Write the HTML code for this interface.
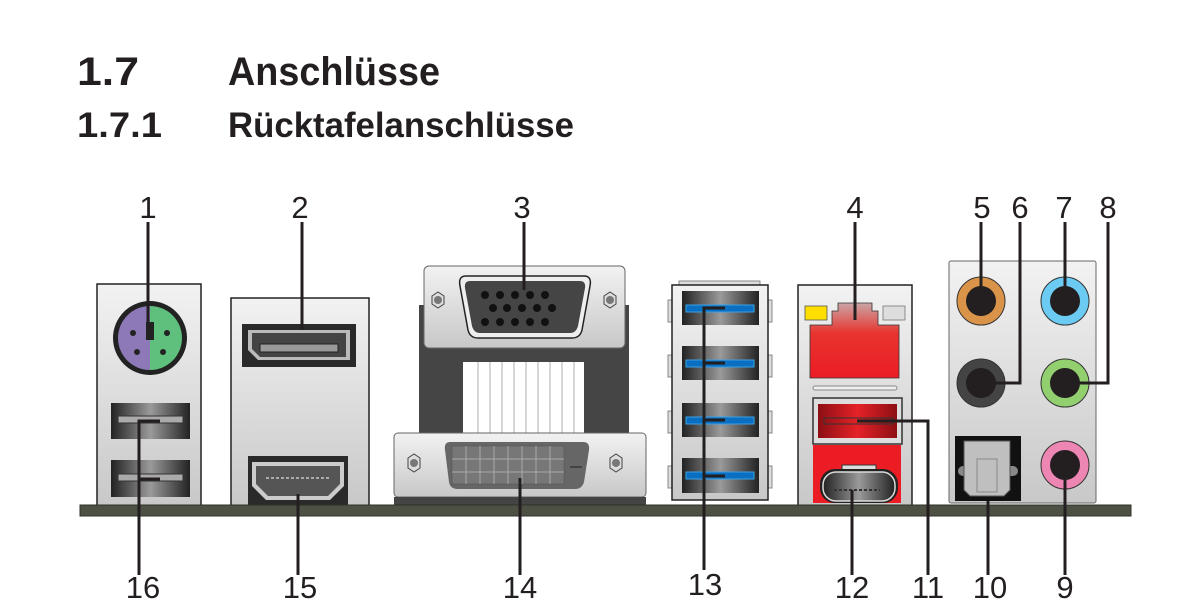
<!DOCTYPE html>
<html><head><meta charset="utf-8"><style>
html,body{margin:0;padding:0;background:#fff;}
svg{display:block;}
text{font-family:"Liberation Sans",sans-serif;fill:#231f20;}
</style></head><body>
<svg width="1201" height="616" viewBox="0 0 1201 616" xmlns="http://www.w3.org/2000/svg">
<defs>
<linearGradient id="port" x1="0" x2="1" y1="0" y2="0">
<stop offset="0" stop-color="#222"/><stop offset="0.5" stop-color="#9a9a9a"/><stop offset="1" stop-color="#222"/>
</linearGradient>
<linearGradient id="plate" x1="0" x2="0" y1="0" y2="1">
<stop offset="0" stop-color="#f2f2f2"/><stop offset="1" stop-color="#c8c8c8"/>
</linearGradient>
<linearGradient id="rj" x1="0" x2="0" y1="0" y2="1">
<stop offset="0" stop-color="#c9a6a6"/><stop offset="0.4" stop-color="#e8342f"/><stop offset="1" stop-color="#ec1c24"/>
</linearGradient>
<linearGradient id="redport" x1="0" x2="1" y1="0" y2="0">
<stop offset="0" stop-color="#8c0f14"/><stop offset="0.5" stop-color="#e52228"/><stop offset="1" stop-color="#8c0f14"/>
</linearGradient>
</defs>

<text x="77" y="85" font-size="40" font-weight="bold" textLength="62" lengthAdjust="spacingAndGlyphs">1.7</text>
<text x="228" y="85" font-size="40" font-weight="bold" textLength="212" lengthAdjust="spacingAndGlyphs">Anschlüsse</text>
<text x="77" y="137" font-size="35" font-weight="bold" textLength="85" lengthAdjust="spacingAndGlyphs">1.7.1</text>
<text x="228" y="137" font-size="35" font-weight="bold" textLength="346" lengthAdjust="spacingAndGlyphs">Rücktafelanschlüsse</text>

<g font-size="31" text-anchor="middle">
<text x="148" y="218">1</text><text x="300" y="218">2</text><text x="522" y="218">3</text>
<text x="855" y="218">4</text><text x="982" y="218">5</text><text x="1020" y="218">6</text>
<text x="1064" y="218">7</text><text x="1108" y="218">8</text>
<text x="143" y="598">16</text><text x="300" y="598">15</text><text x="520" y="598">14</text>
<text x="705" y="595">13</text><text x="852" y="598">12</text><text x="928" y="598">11</text>
<text x="990" y="598">10</text><text x="1065" y="598">9</text>
</g>

<!-- block 1 -->
<rect x="97" y="284" width="104" height="222" fill="url(#plate)" stroke="#222" stroke-width="1.5"/>
<circle cx="150" cy="338" r="37" fill="#222"/>
<path d="M150 306 A32 32 0 0 0 150 370 Z" fill="#8e79b8"/>
<path d="M150 306 A32 32 0 0 1 150 370 Z" fill="#5fbf7c"/>
<rect x="146" y="322" width="8" height="18" fill="#222"/>
<g fill="#222"><circle cx="133" cy="333" r="3"/><circle cx="167" cy="333" r="3"/><circle cx="137" cy="352" r="3"/><circle cx="163" cy="352" r="3"/><circle cx="140" cy="323" r="0"/></g>
<rect x="111" y="403" width="79" height="36" fill="url(#port)"/>
<rect x="118" y="416" width="65" height="7" fill="#aaa" stroke="#333"/>
<rect x="111" y="460" width="79" height="37" fill="url(#port)"/>
<rect x="118" y="474" width="65" height="7" fill="#aaa" stroke="#333"/>

<!-- block 2 -->
<rect x="231" y="298" width="138" height="208" fill="url(#plate)" stroke="#222" stroke-width="1.5"/>
<rect x="242" y="324" width="114" height="43" fill="#2a2a2a"/>
<path d="M248 330 H350 V360 H258 L248 350 Z" fill="#bbb"/>
<path d="M252 333 H346 V357 H260 L252 349 Z" fill="#444"/>
<rect x="260" y="344" width="78" height="8" fill="#999" stroke="#222"/>
<rect x="248" y="456" width="100" height="50" fill="#2a2a2a"/>
<path d="M252 462 H344 V486 L330 500 H266 L252 486 Z" fill="#ccc"/>
<path d="M256 466 H340 V484 L328 496 H268 L256 484 Z" fill="#555"/>
<line x1="266" y1="478" x2="330" y2="478" stroke="#aaa" stroke-width="2" stroke-dasharray="3 2"/>

<!-- VGA / DVI -->
<rect x="419" y="305" width="210" height="130" fill="#454545"/>
<rect x="463" y="362" width="121" height="72" fill="#fff"/>
<g stroke="#c8c8c8" stroke-width="1.5">
<line x1="478" y1="362" x2="478" y2="434"/><line x1="490" y1="362" x2="490" y2="434"/><line x1="502" y1="362" x2="502" y2="434"/><line x1="514" y1="362" x2="514" y2="434"/><line x1="526" y1="362" x2="526" y2="434"/><line x1="538" y1="362" x2="538" y2="434"/><line x1="550" y1="362" x2="550" y2="434"/><line x1="562" y1="362" x2="562" y2="434"/><line x1="574" y1="362" x2="574" y2="434"/>
</g>
<rect x="424" y="266" width="201" height="82" rx="5" fill="url(#plate)" stroke="#666"/>
<path d="M466 276 H584 Q592 276 590 286 L582 330 Q580 338 572 338 H478 Q470 338 468 330 L460 286 Q458 276 466 276 Z" fill="#eee" stroke="#222" stroke-width="1.5"/>
<path d="M470 281 H580 Q586 281 585 288 L578 326 Q576 333 570 333 H480 Q474 333 472 326 L465 288 Q464 281 470 281 Z" fill="#454545"/>
<g fill="#111">
<circle cx="485" cy="295" r="4"/><circle cx="500" cy="295" r="4"/><circle cx="515" cy="295" r="4"/><circle cx="530" cy="295" r="4"/><circle cx="545" cy="295" r="4"/>
<circle cx="493" cy="308" r="4"/><circle cx="507" cy="308" r="4"/><circle cx="522" cy="308" r="4"/><circle cx="537" cy="308" r="4"/><circle cx="552" cy="308" r="4"/>
<circle cx="485" cy="322" r="4"/><circle cx="500" cy="322" r="4"/><circle cx="515" cy="322" r="4"/><circle cx="530" cy="322" r="4"/><circle cx="545" cy="322" r="4"/>
</g>
<polygon points="432,296 438,292 444,296 444,304 438,308 432,304" fill="#ddd" stroke="#444"/><circle cx="438" cy="300" r="4" fill="#777"/>
<polygon points="604,296 610,292 616,296 616,304 610,308 604,304" fill="#ddd" stroke="#444"/><circle cx="610" cy="300" r="4" fill="#777"/>

<rect x="394" y="433" width="252" height="64" rx="4" fill="url(#plate)" stroke="#666"/>
<rect x="394" y="497" width="252" height="9" fill="#444"/>
<path d="M450 442 H583 Q590 442 589 450 L584 482 Q582 489 575 489 H458 Q450 489 449 482 L445 450 Q444 442 450 442 Z" fill="#666"/>
<g fill="#999" stroke="#555" stroke-width="0.6">
<rect x="452" y="446" width="112" height="38" fill="#777"/>
</g>
<g stroke="#aaa" stroke-width="1">
<line x1="452" y1="459" x2="564" y2="459"/><line x1="452" y1="472" x2="564" y2="472"/>
<line x1="466" y1="446" x2="466" y2="484"/><line x1="480" y1="446" x2="480" y2="484"/><line x1="494" y1="446" x2="494" y2="484"/><line x1="508" y1="446" x2="508" y2="484"/><line x1="522" y1="446" x2="522" y2="484"/><line x1="536" y1="446" x2="536" y2="484"/><line x1="550" y1="446" x2="550" y2="484"/>
</g>
<rect x="570" y="466" width="12" height="2" fill="#444"/>
<polygon points="408,458 414,454 420,458 420,468 414,472 408,468" fill="#ddd" stroke="#444"/><circle cx="414" cy="463" r="4" fill="#777"/>
<polygon points="610,458 616,454 622,458 622,468 616,472 610,468" fill="#ddd" stroke="#444"/><circle cx="616" cy="463" r="4" fill="#777"/>

<!-- USB3 block -->
<rect x="679" y="281" width="81" height="6" fill="#ddd" stroke="#888"/>
<rect x="668" y="300" width="5" height="22" fill="#ddd" stroke="#888"/><rect x="767" y="300" width="5" height="22" fill="#ddd" stroke="#888"/>
<rect x="668" y="355" width="5" height="22" fill="#ddd" stroke="#888"/><rect x="767" y="355" width="5" height="22" fill="#ddd" stroke="#888"/>
<rect x="668" y="411" width="5" height="22" fill="#ddd" stroke="#888"/><rect x="767" y="411" width="5" height="22" fill="#ddd" stroke="#888"/>
<rect x="668" y="466" width="5" height="22" fill="#ddd" stroke="#888"/><rect x="767" y="466" width="5" height="22" fill="#ddd" stroke="#888"/>
<rect x="672" y="285" width="96" height="215" fill="url(#plate)" stroke="#222" stroke-width="1.5"/>
<g>
<rect x="682" y="291" width="77" height="34" fill="url(#port)"/><rect x="686" y="305" width="68" height="7" fill="#0a6fbf" stroke="#3aa0e8"/>
<rect x="682" y="346" width="77" height="34" fill="url(#port)"/><rect x="686" y="360" width="68" height="7" fill="#0a6fbf" stroke="#3aa0e8"/>
<rect x="682" y="403" width="77" height="34" fill="url(#port)"/><rect x="686" y="417" width="68" height="7" fill="#0a6fbf" stroke="#3aa0e8"/>
<rect x="682" y="458" width="77" height="35" fill="url(#port)"/><rect x="686" y="472" width="68" height="7" fill="#0a6fbf" stroke="#3aa0e8"/>
</g>

<!-- LAN block -->
<rect x="798" y="285" width="114" height="221" fill="url(#plate)" stroke="#222" stroke-width="1.5"/>
<rect x="805" y="306" width="22" height="14" fill="#ffde00" stroke="#555" stroke-width="0.8"/>
<rect x="883" y="306" width="22" height="14" fill="#ddd" stroke="#777" stroke-width="0.8"/>
<path d="M838 303 H872 V311 H878 V325 H899 V378 H810 V325 H832 V311 H838 Z" fill="url(#rj)" stroke="#333" stroke-width="0.8"/>
<rect x="813" y="386" width="84" height="4" rx="2" fill="#eee" stroke="#888"/>
<rect x="813" y="445" width="88" height="58" fill="#ec1c24"/>
<rect x="813" y="398" width="89" height="46" fill="#ddd" stroke="#333" stroke-width="1.5"/>
<rect x="818" y="404" width="79" height="34" fill="url(#redport)"/>
<rect x="824" y="418" width="69" height="6" fill="none" stroke="#333"/>
<rect x="842" y="465" width="34" height="5" fill="#ddd" stroke="#333"/>
<rect x="820" y="469" width="78" height="34" rx="15" fill="#222"/>
<rect x="823" y="472" width="72" height="29" rx="13" fill="url(#port)" stroke="#ddd" stroke-width="1.5"/>
<line x1="834" y1="490" x2="880" y2="490" stroke="#333" stroke-width="2" stroke-dasharray="3 2"/>

<!-- audio block -->
<rect x="949" y="261" width="147" height="242" rx="2" fill="url(#plate)" stroke="#666" stroke-width="1"/>
<circle cx="981" cy="301" r="24" fill="#d9944a" stroke="#333"/><circle cx="981" cy="301" r="15" fill="#231f20"/>
<circle cx="1065" cy="301" r="24" fill="#6ccbf2" stroke="#333"/><circle cx="1065" cy="301" r="15" fill="#231f20"/>
<circle cx="981" cy="383" r="24" fill="#444" stroke="#333"/><circle cx="981" cy="383" r="15" fill="#231f20"/>
<circle cx="1065" cy="383" r="24" fill="#92cf6e" stroke="#333"/><circle cx="1065" cy="383" r="15" fill="#231f20"/>
<circle cx="1065" cy="465" r="24" fill="#ee86b4" stroke="#333"/><circle cx="1065" cy="465" r="15" fill="#231f20"/>
<rect x="955" y="436" width="66" height="65" fill="#111"/>
<rect x="958" y="466" width="60" height="10" rx="5" fill="#888"/>
<path d="M964 441 H1010 V490 L1004 496 H970 L964 490 Z" fill="#bfbfbf" stroke="#555"/>
<rect x="977" y="459" width="20" height="33" fill="none" stroke="#888"/>

<!-- bar -->
<rect x="80" y="505" width="1051" height="11" fill="#4c5144" stroke="#2e3129" stroke-width="1"/>

<!-- leaders -->
<g stroke="#231f20" stroke-width="3" fill="none">
<line x1="148" y1="222" x2="148" y2="322"/>
<line x1="302" y1="222" x2="302" y2="330"/>
<line x1="524" y1="222" x2="524" y2="290"/>
<line x1="855" y1="222" x2="855" y2="320"/>
<line x1="981" y1="222" x2="981" y2="301"/>
<polyline points="1020,222 1020,383 981,383"/>
<line x1="1065" y1="222" x2="1065" y2="301"/>
<polyline points="1108,222 1108,383 1065,383"/>
<polyline points="160,421 139,421 139,575"/>
<line x1="139" y1="479" x2="160" y2="479"/>
<line x1="298" y1="494" x2="298" y2="575"/>
<line x1="520" y1="478" x2="520" y2="575"/>
<polyline points="725,308 704,308 704,570"/>
<line x1="704" y1="363" x2="725" y2="363"/>
<line x1="704" y1="420" x2="725" y2="420"/>
<line x1="704" y1="476" x2="725" y2="476"/>
<polyline points="857,421 928,421 928,575"/>
<line x1="852" y1="490" x2="852" y2="575"/>
<line x1="988" y1="501" x2="988" y2="575"/>
<line x1="1065" y1="465" x2="1065" y2="575"/>
</g>
</svg>
</body></html>
